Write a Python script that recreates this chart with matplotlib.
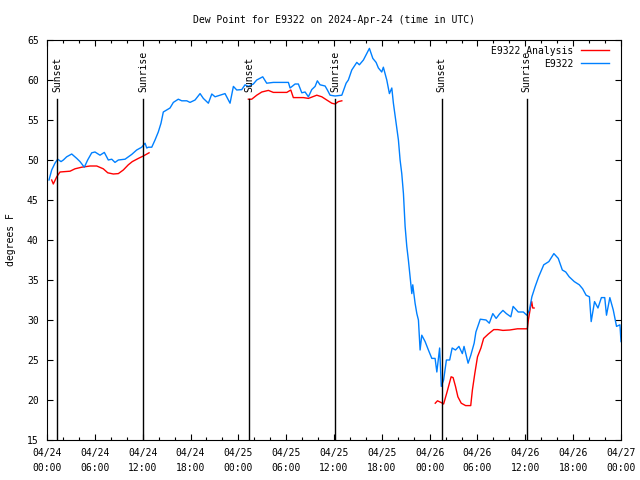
import matplotlib
matplotlib.use('Agg')
import matplotlib.pyplot as plt
import numpy as np

# hours since 2024-04-24 00:00 UTC
blue_hours = [0.25, 0.59, 1.0, 1.34, 1.76, 2.05, 2.47, 3.1, 3.73, 4.14, 4.68, 5.1, 5.61,
              6.02, 6.65, 7.19, 7.69, 8.12, 8.53, 8.95, 9.79, 10.63, 11.25, 11.88, 12.3,
              12.51, 12.71, 13.14, 13.55, 13.96, 14.3, 14.59, 15.02, 15.43, 15.85, 16.47,
              16.9, 17.53, 17.94, 18.57, 19.2, 19.61, 20.24, 20.67, 21.08, 21.71, 22.33,
              22.96, 23.38, 23.8, 24.43, 24.84, 25.26, 25.88, 26.31, 27.06, 27.56, 28.39,
              29.23, 30.28, 30.49, 31.12, 31.53, 31.96, 32.37, 32.79, 33.21, 33.63, 33.91,
              34.25, 34.88, 35.17, 35.51, 36.14, 36.98, 37.52, 37.8, 38.23, 38.86, 39.18,
              39.69, 40.44, 40.87, 41.28, 41.57, 41.99, 42.19, 42.62, 42.95, 43.25, 43.45,
              43.79, 44.08, 44.29, 44.5, 44.71, 44.92, 45.13, 45.33, 45.55, 45.76, 45.88,
              46.17, 46.39, 46.59, 46.8, 47.01, 47.43, 47.84, 48.27, 48.68, 48.9, 49.25,
              49.46, 49.75, 50.1, 50.51, 50.82, 51.24, 51.67, 52.1, 52.31, 52.82, 53.16,
              53.58, 53.8, 54.35, 55.07, 55.48, 55.92, 56.34, 56.76, 57.19, 57.62, 58.18,
              58.47, 59.11, 59.75, 60.18, 60.51, 60.82, 61.24, 61.67, 62.31, 62.95, 63.58,
              64.13, 64.64, 65.07, 65.5, 66.14, 66.77, 67.19, 67.62, 68.04, 68.26, 68.68,
              69.11, 69.54, 69.96, 70.18, 70.6, 71.03, 71.44, 71.87, 72.0]
blue_values = [47.5, 48.75, 49.6, 50.1, 49.8, 50.0, 50.4, 50.75, 50.2, 49.8, 49.1, 50.0, 50.9,
               51.0, 50.6, 50.95, 50.0, 50.1, 49.7, 50.0, 50.1, 50.7, 51.25, 51.6, 52.1,
               51.5, 51.6, 51.6, 52.5, 53.5, 54.6, 56.0, 56.25, 56.5, 57.2, 57.6,
               57.4, 57.4, 57.2, 57.5, 58.3, 57.7, 57.1, 58.25, 57.9, 58.1, 58.3,
               57.1, 59.2, 58.75, 58.8, 59.4, 59.2, 59.5, 60.0, 60.4, 59.6, 59.7,
               59.7, 59.7, 59.0, 59.5, 59.5, 58.4, 58.5, 57.9, 58.8, 59.2, 59.9,
               59.4, 59.25, 58.75, 58.1, 58.0, 58.1, 59.6, 60.0, 61.25, 62.2, 61.9,
               62.5, 63.95, 62.7, 62.2, 61.5, 61.0, 61.6, 60.0, 58.3, 59.0, 57.1,
               54.6, 52.5, 50.0, 48.3, 45.8, 41.7, 39.2, 37.5, 35.4, 33.3, 34.4,
               32.1, 30.8, 30.0, 26.25, 28.1, 27.3, 26.25, 25.2, 25.2, 23.5, 26.5,
               21.7, 22.5, 25.0, 25.0, 26.5, 26.25, 26.7, 25.8, 26.7, 24.6, 25.6,
               27.1, 28.5, 30.1, 30.0, 29.6, 30.8, 30.2, 30.75, 31.2, 30.8, 30.4,
               31.7, 31.0, 31.0, 30.6, 31.25, 32.9, 34.2, 35.4, 36.9, 37.3, 38.3,
               37.7, 36.25, 36.0, 35.4, 34.8, 34.4, 33.9, 33.1, 32.9, 29.8, 32.3,
               31.5, 32.8, 32.8, 30.6, 32.8, 31.25, 29.2, 29.4, 27.3]

# analysis series, NaN marks the gaps between runs
red_hours = [0.59, 0.79, 1.22, 1.63, 2.89, 3.51, 4.35, 5.4, 6.24, 7.06, 7.62, 8.32, 8.95,
             9.57, 10.2, 10.7, 11.46, 12.08, 12.8, np.nan,
             25.26, 25.68, 26.31, 26.94, 27.77, 28.39, 30.08, 30.58, 30.9, 32.16, 32.79,
             33.84, 34.47, 35.09, 35.72, 36.14, 36.55, 36.98, np.nan,
             48.7, 48.98, 49.41, 49.75, 50.18, 50.69, 50.94, 51.24, 51.54, 51.96, 52.51,
             53.15, 53.36, 53.66, 54.0, 54.43, 54.77, 55.36, 56.04, 56.55, 57.19, 58.04,
             59.01, 59.95, 60.25, 60.38, 60.63, 60.8, 60.93, 61.1]
red_values = [47.5, 47.0, 47.9, 48.5, 48.6, 48.9, 49.1, 49.25, 49.25, 48.9, 48.4, 48.25, 48.3,
              48.75, 49.4, 49.8, 50.2, 50.5, 50.9, np.nan,
              57.6, 57.6, 58.1, 58.5, 58.7, 58.45, 58.45, 58.75, 57.8, 57.8, 57.7,
              58.1, 57.9, 57.5, 57.1, 57.0, 57.3, 57.4, np.nan,
              19.6, 19.9, 19.7, 19.5, 21.0, 22.9, 22.8, 21.7, 20.4, 19.6, 19.3,
              19.3, 21.25, 23.3, 25.4, 26.5, 27.7, 28.25, 28.8, 28.8, 28.7, 28.75,
              28.9, 28.9, 28.9, 30.0, 31.5, 32.3, 31.5, 31.5]

sun_hours = [1.29, 12.08, 25.35, 36.17, 49.5, 60.15]
sun_labels = ['Sunset', 'Sunrise', 'Sunset', 'Sunrise', 'Sunset', 'Sunrise']

xtick_hours = list(range(0, 73, 6))
xtick_labels = ['04/24\n00:00', '04/24\n06:00', '04/24\n12:00', '04/24\n18:00',
                '04/25\n00:00', '04/25\n06:00', '04/25\n12:00', '04/25\n18:00',
                '04/26\n00:00', '04/26\n06:00', '04/26\n12:00', '04/26\n18:00',
                '04/27\n00:00']

plt.rcParams['font.family'] = ['DejaVu Sans Mono']
plt.rcParams['font.size'] = 7

fig = plt.figure(figsize=(6.4, 4.8), dpi=100)
ax = fig.add_axes([47/640, 1-440/480, 574/640, 400/480])

ax.plot(red_hours, red_values, color='#ff0000', lw=1.0, label='E9322 Analysis')
ax.plot(blue_hours, blue_values, color='#0080ff', lw=1.0, label='E9322')

#sunrise / sunset markers
for h, s in zip(sun_hours, sun_labels):
    ax.plot([h, h], [0, 0.852], color='black', lw=1.0, transform=ax.get_xaxis_transform())
    ax.text(h, 0.87, s, rotation=90, ha='center', va='bottom',
            transform=ax.get_xaxis_transform())

ax.set_xlim(0, 72)
ax.set_ylim(15, 65)
ax.set_xticks(xtick_hours)
ax.set_xticklabels(xtick_labels, linespacing=1.6)
ax.set_xticks(range(0, 73, 2), minor=True)
ax.set_yticks(range(15, 66, 5))
ax.tick_params(which='both', direction='in', top=True, right=True, width=0.8)
ax.tick_params(which='major', length=4.5, pad=6)
ax.tick_params(which='minor', length=2.5)
for sp in ax.spines.values():
    sp.set_linewidth(0.8)

ax.set_ylabel('degrees F')
ax.yaxis.set_label_coords(-31/574, 0.5)
ax.set_title('Dew Point for E9322 on 2024-Apr-24 (time in UTC)', fontsize=7, pad=12)

ax.legend(loc='upper right', bbox_to_anchor=(1 - 6/574, 1.0), frameon=False,
          markerfirst=False, handlelength=2.9, borderaxespad=0.2, labelspacing=0.3,
          handletextpad=0.8)

fig.savefig('out.png', dpi=100)
